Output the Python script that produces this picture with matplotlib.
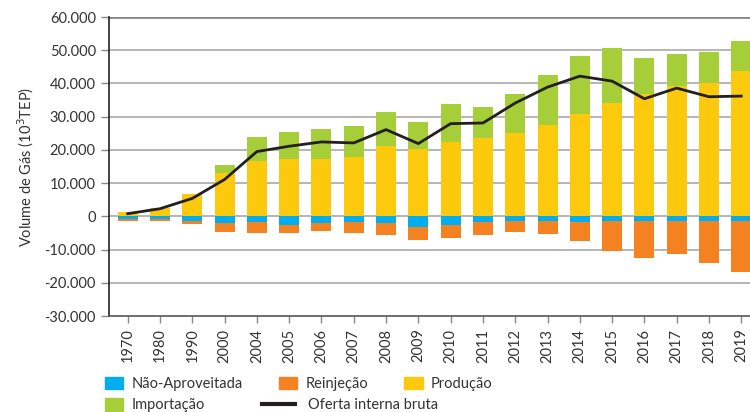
import matplotlib.pyplot as plt
import numpy as np
from matplotlib.patches import Patch
from matplotlib.lines import Line2D

plt.rcParams['font.family'] = ['Lato', 'DejaVu Sans']

anos = ['1970', '1980', '1990', '2000', '2004', '2005', '2006', '2007', '2008', '2009',
        '2010', '2011', '2012', '2013', '2014', '2015', '2016', '2017', '2018', '2019']

producao = [1400, 2400, 6600, 13000, 16700, 17400, 17400, 17900, 21100, 20400,
            22500, 23500, 25000, 27600, 30900, 34100, 36900, 39300, 40200, 43900]
importacao = [0, 0, 0, 2400, 7300, 8100, 8900, 9400, 10400, 7900,
              11300, 9500, 11800, 15000, 17500, 16600, 10800, 9700, 9400, 8900]
nao_aproveitada = [-900, -700, -1300, -2000, -1700, -2500, -1900, -1700, -2100, -3100,
                   -2600, -1700, -1400, -1300, -1800, -1400, -1400, -1400, -1500, -1500]
reinjecao = [-600, -700, -900, -2700, -3400, -2600, -2600, -3400, -3400, -4000,
             -3800, -4000, -3300, -4100, -5700, -9000, -11000, -9900, -12600, -15400]
oferta = [800, 2300, 5400, 11100, 19500, 21100, 22400, 22100, 26100, 21900,
          27900, 28100, 34100, 38900, 42200, 40700, 35400, 38600, 36000, 36200]

c_azul = '#00AEEF'
c_laranja = '#F58220'
c_amarelo = '#FDC90C'
c_verde = '#A6CE39'
c_linha = '#231F20'

fig = plt.figure(figsize=(7.5, 4.12), dpi=100)
ax = fig.add_axes([0.1453, 0.233, 0.8547, 0.7257])

x = np.arange(len(anos))
w = 0.62
ax.bar(x, producao, w, color=c_amarelo, zorder=3)
ax.bar(x, importacao, w, bottom=producao, color=c_verde, zorder=3)
ax.bar(x, nao_aproveitada, w, color=c_azul, zorder=3)
ax.bar(x, reinjecao, w, bottom=nao_aproveitada, color=c_laranja, zorder=3)
ax.plot(x, oferta, color=c_linha, lw=2, zorder=4)

ax.set_xlim(-0.58, 19.27)
ax.set_ylim(-30000, 60000)
yt = np.arange(-30000, 60001, 10000)
ax.set_yticks(yt)
ax.set_yticklabels([f'{v:,}'.replace(',', '.') for v in yt], fontsize=10.5, color='#333333')
ax.set_xticks(x)
ax.set_xticklabels(anos, rotation=90, fontsize=10.5, color='#333333')
ax.tick_params(axis='y', length=6, color='#888888', width=1)
ax.tick_params(axis='x', length=5, color='#888888', width=1, pad=4)
for v in yt[1:-1]:
    ax.axhline(v, color='#b0b0b0', lw=1.3, zorder=1)
ax.axhline(60000, color='#888888', lw=2, zorder=1)

for s in ['top', 'right']:
    ax.spines[s].set_visible(False)
ax.spines['left'].set_color('#222222')
ax.spines['left'].set_linewidth(1.2)
ax.spines['bottom'].set_color('#555555')
ax.spines['bottom'].set_linewidth(1.2)

ax.set_ylabel('Volume de Gás (10$^3$TEP)', fontsize=10.5, color='#333333', labelpad=6)

opts = dict(loc='upper left', frameon=False, fontsize=10.5, handleheight=0.9,
            borderaxespad=0, borderpad=0)
leg1 = fig.legend(handles=[Patch(color=c_azul, label='Não-Aproveitada'),
                           Patch(color=c_laranja, label='Reinjeção'),
                           Patch(color=c_amarelo, label='Produção')],
                  ncol=3, bbox_to_anchor=(0.14, 0.085), handlelength=1.25,
                  handletextpad=0.55, columnspacing=2.5, **opts)
leg2 = fig.legend(handles=[Patch(color=c_verde, label='Importação')],
                  bbox_to_anchor=(0.14, 0.033), handlelength=1.25,
                  handletextpad=0.55, **opts)
leg3 = fig.legend(handles=[Line2D([], [], color=c_linha, lw=3, label='Oferta interna bruta')],
                  bbox_to_anchor=(0.349, 0.033), handlelength=2.3,
                  handletextpad=0.85, **opts)
for lg in [leg1, leg2, leg3]:
    for t in lg.get_texts():
        t.set_color('#333333')

fig.savefig('out.png', dpi=100)
